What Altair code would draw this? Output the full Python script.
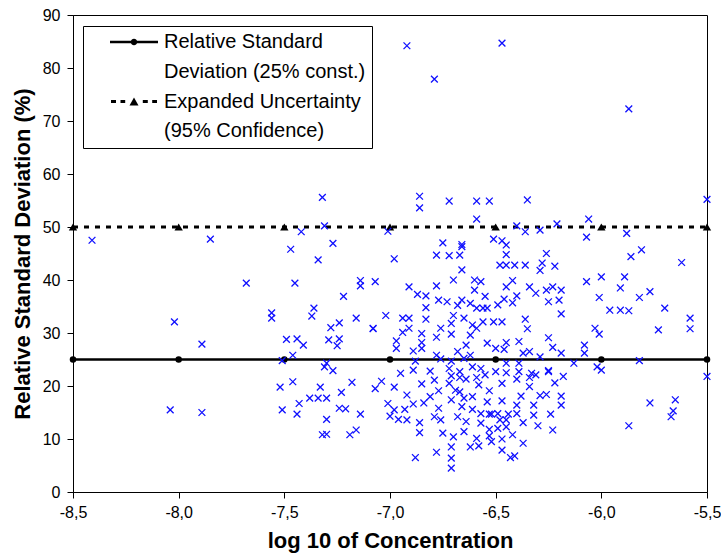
import altair as alt
import pandas as pd

# ---- data ----
conc = [
    -8.41, -7.85, -8.02, -7.89, -8.04, -7.89,
    -7.32, -7.31, -7.42, -7.27, -7.47, -7.34, -7.68, -7.45, -7.14, -7.14, -7.07, -7.22,
    -7.56, -7.56, -7.36, -7.37, -7.16, -7.28, -7.24, -7.08, -7.49, -7.44, -7.41, -7.29,
    -7.24, -7.25, -7.46, -7.51, -7.31, -7.30, -7.27, -7.52, -7.46, -7.33, -7.18, -7.04,
    -7.07, -7.23, -7.38, -7.34, -7.30, -7.43, -7.51, -7.44, -7.21, -7.24, -7.14, -7.30,
    -7.16, -7.19, -7.32, -7.30,
    -6.92, -6.47, -6.79, -6.86, -6.86, -6.72, -6.59, -6.53, -6.35, -6.59, -7.01, -6.40,
    -6.36, -6.29, -6.21, -6.51, -6.47, -6.75, -6.66, -6.06, -6.07, -6.45, -6.45, -6.78,
    -6.72, -6.66, -6.67, -6.26, -6.98,
    -6.66, -6.70, -6.60, -6.91, -6.78, -6.60, -6.87, -6.83, -6.77, -6.73, -6.66, -6.62,
    -6.83, -6.68, -6.59, -7.02, -6.94, -6.91, -6.83, -6.70, -6.65, -6.71, -6.61, -7.08,
    -6.94, -6.91, -6.85, -6.76, -6.71, -6.62, -6.59, -6.97, -6.85, -6.78, -6.64, -6.97,
    -6.85, -6.89, -6.68, -6.62, -6.78, -6.88, -6.76, -6.71, -6.65, -6.89, -6.81, -6.72,
    -6.67, -6.61, -6.95,
    -6.98, -6.85, -6.92, -7.01, -6.89, -6.84, -6.81, -6.98, -6.93, -7.00, -6.96, -6.92,
    -6.86, -6.86, -6.88, -6.78, -6.71, -6.71, -6.71, -6.75, -6.70, -6.65, -6.62, -6.59,
    -6.76, -6.77, -6.71, -6.77, -6.79, -6.72, -6.64, -6.66, -6.61, -6.68, -6.64, -6.67,
    -6.61,
    -6.79, -6.69, -6.65, -6.58, -6.54, -6.53, -6.57, -6.53, -6.53, -6.49, -6.47, -6.47,
    -6.45, -6.50, -6.40, -6.34, -6.34, -6.25, -6.22, -6.18, -6.38, -6.29, -6.26, -6.19,
    -6.19, -6.32, -6.40, -6.32, -6.24, -6.37, -6.45, -6.30, -6.23, -6.49, -6.42, -6.47,
    -6.52, -6.37, -6.47, -6.43, -6.41, -6.58, -6.53, -6.48, -6.45, -6.40, -6.57, -6.71,
    -6.67, -6.59, -6.55, -6.33,
    -6.48, -6.45, -6.41, -6.36, -6.28, -6.29, -6.22, -6.57, -6.42, -6.45, -6.34, -6.31,
    -6.26, -6.23, -6.19, -6.25, -6.20, -6.19, -6.55, -6.46, -6.40, -6.42, -6.49, -6.56,
    -6.54, -6.36, -6.35, -6.56, -6.51, -6.47, -6.25, -6.23, -6.19, -6.54, -6.50, -6.46,
    -6.39, -6.45, -6.34, -6.37, -6.29, -6.13, -6.57, -6.45, -6.39, -6.39, -6.31, -6.25,
    -6.52, -6.44,
    -5.87, -5.50, -5.88, -5.81, -5.86, -5.62, -6.07, -6.00, -5.89, -5.91, -6.01, -5.82,
    -5.77, -5.96, -5.91, -5.87, -5.70, -5.58, -5.58, -5.73, -6.03, -6.01, -6.08, -6.08,
    -6.02, -6.00, -5.82, -5.50, -5.77, -5.65, -5.66, -5.67, -5.87,
]
rsd = [
    47.5, 47.7, 32.1, 27.9, 15.5, 15.0,
    55.6, 50.2, 49.1, 46.9, 45.8, 43.8, 39.4, 39.4, 38.9, 39.9, 39.7, 36.9,
    32.8, 33.8, 34.7, 33.2, 32.8, 31.0, 31.9, 30.8, 28.8, 28.9, 27.7, 28.7,
    28.9, 27.6, 25.8, 24.8, 23.6, 24.3, 22.9, 19.8, 20.8, 19.8, 20.7, 20.9,
    19.5, 18.8, 17.7, 17.7, 17.7, 16.7, 15.5, 14.7, 15.7, 15.8, 14.7, 13.7,
    11.7, 10.8, 10.8, 10.9,
    84.2, 84.7, 77.9, 55.8, 53.6, 54.9, 54.9, 54.9, 55.1, 51.5, 49.2, 50.2,
    49.1, 49.4, 50.6, 47.7, 47.4, 47.0, 46.7, 51.5, 48.1, 46.6, 44.8, 44.7,
    44.6, 46.3, 44.7, 45.0, 44.0,
    41.9, 40.0, 40.0, 38.7, 38.9, 38.1, 37.3, 37.0, 36.2, 35.9, 36.2, 35.6,
    34.8, 35.2, 34.7, 33.3, 32.8, 32.8, 32.6, 33.3, 32.8, 31.8, 31.5, 30.9,
    30.1, 30.9, 29.9, 30.9, 29.8, 29.6, 30.9, 28.5, 28.2, 29.2, 27.7, 27.1,
    27.1, 26.6, 26.5, 25.8, 25.8, 24.7, 25.1, 24.7, 25.2, 23.0, 22.8, 23.3,
    22.7, 23.6, 22.4,
    19.8, 20.4, 18.3, 16.7, 16.6, 16.8, 18.0, 15.5, 15.6, 14.3, 13.7, 13.6,
    13.1, 11.2, 6.5, 7.5, 6.4, 4.5, 8.5, 11.1, 10.4, 11.4, 8.5, 10.1,
    13.6, 15.8, 17.4, 19.1, 21.1, 20.5, 21.3, 16.1, 15.6, 14.2, 13.3, 18.9,
    18.0,
    14.2, 19.2, 17.7, 20.2, 17.0, 19.1, 13.0, 11.8, 14.7, 14.8, 17.2, 20.5,
    22.5, 22.7, 21.3, 21.6, 19.9, 22.7, 20.6, 21.8, 18.1, 18.2, 18.4, 16.4,
    18.1, 16.4, 14.8, 14.5, 14.7, 13.1, 12.3, 12.5, 11.7, 12.0, 10.8, 10.0,
    9.5, 9.2, 7.9, 6.5, 6.8, 8.7, 10.6, 13.6, 13.6, 16.4, 14.8, 21.9,
    21.6, 21.6, 22.1, 22.4,
    42.8, 42.8, 42.8, 42.8, 43.2, 41.8, 42.6, 39.7, 39.9, 38.7, 38.7, 37.5,
    38.1, 38.7, 38.1, 35.9, 36.2, 33.6, 36.9, 36.4, 37.0, 35.7, 35.3, 34.7,
    34.7, 32.6, 30.8, 32.1, 32.1, 32.1, 29.1, 27.3, 26.2, 28.1, 27.1, 26.9,
    28.4, 28.2, 26.5, 26.2, 25.5, 24.3, 23.3, 24.3, 24.3, 22.7, 22.1, 22.9,
    14.7, 14.7,
    72.3, 55.2, 48.8, 45.7, 44.4, 43.3, 39.7, 40.6, 40.6, 38.5, 36.7, 36.7,
    37.8, 34.3, 34.3, 34.2, 34.7, 32.8, 30.8, 30.6, 30.9, 29.8, 27.7, 26.2,
    23.6, 23.0, 24.8, 21.8, 16.8, 17.4, 15.3, 14.2, 12.5,
]

line_x = [-8.5, -8.0, -7.5, -7.0, -6.5, -6.0, -5.5]
rsd_const = [25, 25, 25, 25, 25, 25, 25]
expanded_unc = [50, 50, 50, 50, 50, 50, 50]

legend_labels = ["Relative Standard", "Deviation (25% const.)",
                 "Expanded Uncertainty", "(95% Confidence)"]
x_ticks = [-8.5, -8.0, -7.5, -7.0, -6.5, -6.0, -5.5]
y_ticks = [0, 10, 20, 30, 40, 50, 60, 70, 80, 90]

# ---- chart ----
FONT = "Liberation Sans"
X_PATH = "M-1,-1L1,1M-1,1L1,-1"


def bar(x0, x1, h):
    return f"M{x0},{-h}L{x1},{-h}L{x1},{h}L{x0},{h}Z"


SOLID_SYM = (bar(-2.4, 2.4, 0.13)
             + "M-0.33,0A0.33,0.33 0 1,1 0.33,0A0.33,0.33 0 1,1 -0.33,0Z")
DOTTED_SYM = (bar(-2.3, -1.8, 0.15) + bar(-1.35, -0.88, 0.15)
              + bar(0.88, 1.38, 0.15) + bar(1.82, 2.3, 0.15)
              + "M-0.45,0.38L0,-0.42L0.45,0.38Z")
NBSP = "\u00a0"

pts = pd.DataFrame({"x": conc, "y": rsd})
rsd_df = pd.DataFrame({"x": line_x, "y": rsd_const})
eu_df = pd.DataFrame({"x": line_x, "y": expanded_unc})
leg_df = pd.DataFrame({"entry": legend_labels})

x_axis = alt.Axis(
    values=x_ticks, title="log 10 of Concentration", grid=False,
    labelExpr="(datum.value < 0 ? '-' : '') + replace(format(abs(datum.value), '.1f'), '.', ',')",
    tickSize=6, labelPadding=6, titlePadding=10, labelFlush=False,
)
y_axis = alt.Axis(
    values=y_ticks, title="Relative Standard Deviation (%)", grid=False,
    format="d", tickSize=6, labelPadding=7, titlePadding=8,
)
X = alt.X("x:Q", scale=alt.Scale(domain=[-8.5, -5.5], nice=False, zero=False), axis=x_axis)
Y = alt.Y("y:Q", scale=alt.Scale(domain=[0, 90], nice=False), axis=y_axis)

rsd_line = alt.Chart(rsd_df).mark_line(color="black", strokeWidth=2.6).encode(x=X, y=Y)
rsd_pts = alt.Chart(rsd_df).mark_point(shape="circle", filled=True, color="black",
                                       size=42, opacity=1).encode(x=X, y=Y)
eu_line = alt.Chart(eu_df).mark_line(color="black", strokeWidth=3,
                                     strokeDash=[5, 6]).encode(x=X, y=Y)
eu_pts = alt.Chart(eu_df).mark_point(shape="triangle-up", filled=True, color="black",
                                     size=70, opacity=1).encode(x=X, y=Y)
scatter = alt.Chart(pts).mark_point(shape=X_PATH, size=46, filled=False, color="#1010ff",
                                    strokeWidth=1.3, opacity=1).encode(x=X, y=Y)

legend_layer = alt.Chart(leg_df).transform_filter("false").mark_point(
    filled=True, color="black", opacity=1
).encode(
    shape=alt.Shape(
        "entry:N",
        scale=alt.Scale(domain=legend_labels,
                        range=[SOLID_SYM, "M0,0", DOTTED_SYM, "M0,0"]),
        legend=alt.Legend(
            title=None, orient="none", legendX=10, legendY=11,
            strokeColor="black", fillColor="white", padding=6,
            labelFont=FONT, labelFontSize=20, labelColor="black", labelLimit=0,
            labelExpr=f"datum.value == 'Deviation (25% const.)' ? datum.label + '{NBSP}{NBSP}{NBSP}{NBSP}' : datum.label",
            symbolSize=400, symbolStrokeWidth=0,
            symbolFillColor="black", symbolOffset=35, labelOffset=20,
            rowPadding=9.8,
        ),
    )
)

chart = alt.layer(
    rsd_line, eu_line, rsd_pts, eu_pts, scatter, legend_layer
).properties(
    width=634, height=477,
    autosize=alt.AutoSizeParams(type="none"),
    padding={"left": 73, "top": 15, "right": 14, "bottom": 64},
    background="white",
).configure_view(
    stroke="black", strokeWidth=1
).configure_axis(
    domainColor="black", tickColor="black", labelColor="black", titleColor="black",
    labelFont=FONT, titleFont=FONT, labelFontSize=16, titleFontSize=22,
    titleFontWeight="bold", domainWidth=1,
)

chart.save("out.html", embed_options={"renderer": "svg", "actions": False})
